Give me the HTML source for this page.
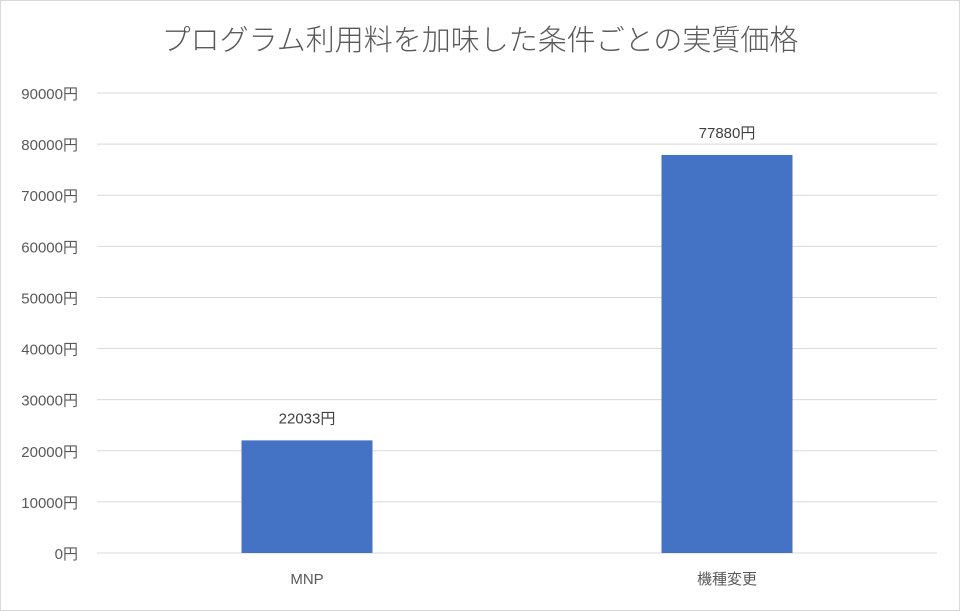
<!DOCTYPE html>
<html><head><meta charset="utf-8">
<style>
html,body{margin:0;padding:0;background:#fff;}
svg{display:block;font-family:"Liberation Sans","Noto Sans CJK JP",sans-serif;}
</style></head>
<body>
<svg id="chart" width="960" height="611" viewBox="0 0 960 611">
<rect x="0.5" y="0.5" width="959" height="610" fill="#fff" stroke="#d9d9d9"/>
<text x="480" y="50" text-anchor="middle" font-size="29" font-weight="300" fill="#595959">プログラム利用料を加味した条件ごとの実質価格</text>
<g id="grid"></g><g id="bars"></g><g id="labels"></g>
</svg>
<script>
const categories = ["MNP", "機種変更"];
const values = [22033, 77880];
const ticks = [0,10000,20000,30000,40000,50000,60000,70000,80000,90000];
const NS = "http://www.w3.org/2000/svg";
const x0 = 97, x1 = 937, yTop = 93, yBot = 553, maxV = 90000;
const y = v => yBot - (v / maxV) * (yBot - yTop);
const band = (x1 - x0) / categories.length;
const xc = i => x0 + band * (i + 0.5);
const barW = 131;
function mk(tag, attrs, parent){const e=document.createElementNS(NS,tag);for(const k in attrs)e.setAttribute(k,attrs[k]);parent.appendChild(e);return e;}
const grid = document.getElementById('grid'), bars = document.getElementById('bars'), labels = document.getElementById('labels');
ticks.forEach(t => {
  const l = mk('line',{x1:x0,x2:x1,y1:y(t),y2:y(t),stroke:'#d9d9d9','stroke-width':1},grid);
  
  
  const tx = mk('text',{x:78,y:y(t)+6,'text-anchor':'end','font-size':15,fill:'#595959'},labels);
  tx.textContent = t + '円';
  
  
});
categories.forEach((c,i) => {
  const r = mk('rect',{x:xc(i)-barW/2,y:y(values[i]),width:barW,height:yBot-y(values[i]),fill:'#4472c4'},bars);
  
  
  const v = mk('text',{x:xc(i),y:y(values[i])-17,'text-anchor':'middle','font-size':15,fill:'#404040'},labels);
  v.textContent = values[i] + '円';
  
  
  const cl = mk('text',{x:xc(i),y:584,'text-anchor':'middle','font-size':15,fill:'#595959'},labels);
  cl.textContent = c;
  
  
});
</script>
</body></html>
